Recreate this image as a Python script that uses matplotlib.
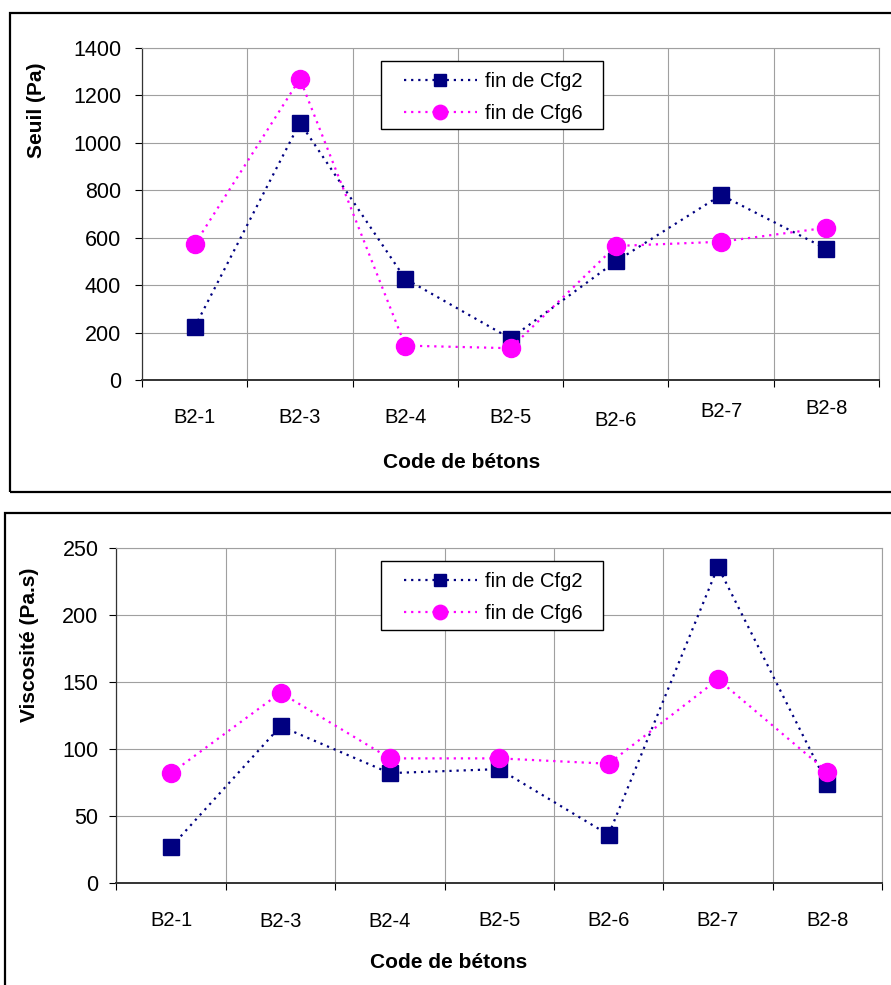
import numpy as np
import matplotlib
matplotlib.use('Agg')
import matplotlib.pyplot as plt
from matplotlib.patches import Rectangle

plt.rcParams['font.family'] = ['Liberation Sans', 'DejaVu Sans']

codes = ['B2-1', 'B2-3', 'B2-4', 'B2-5', 'B2-6', 'B2-7', 'B2-8']
seuil_cfg2 = [223, 1085, 427, 175, 500, 780, 553]
seuil_cfg6 = [572, 1270, 145, 134, 565, 583, 642]
visco_cfg2 = [27, 117, 82, 85, 36, 236, 74]
visco_cfg6 = [82, 142, 93, 93, 89, 152, 83]

W, H = 891, 985
fig = plt.figure(figsize=(W / 100, H / 100), dpi=100)
NAVY = '#000080'
MAG = '#FF00FF'
GRID = '#a0a0a0'


def px_axes(l, t, r, b):
    return fig.add_axes([l / W, 1 - b / H, (r - l) / W, (b - t) / H])


def draw(ax, y2, y6, ymax, ystep, ypad, leg_box, label_offsets):
    x = np.arange(len(codes)) + 0.5
    ax.plot(x, y2, linestyle=(0, (1, 2.2)), lw=1.6, color=NAVY, marker='s',
            ms=11.5, mfc=NAVY, mec=NAVY, label='fin de Cfg2', zorder=3)
    ax.plot(x, y6, linestyle=(0, (1, 2.2)), lw=1.6, color=MAG, marker='o',
            ms=13, mfc=MAG, mec=MAG, label='fin de Cfg6', zorder=4)
    ax.set_xlim(0, len(codes))
    ax.set_ylim(0, ymax)
    ax.set_yticks(np.arange(0, ymax + 1, ystep))
    ax.set_xticks(np.arange(0, len(codes) + 1))
    ax.set_xticklabels([])
    ax.set_xticks(x, minor=True)
    ax.set_xticklabels(codes, minor=True, fontsize=14.5)
    ax.tick_params(axis='x', which='major', length=5, width=0.8, direction='out')
    ax.tick_params(axis='x', which='minor', length=0)
    for tk, off in zip(ax.xaxis.get_minor_ticks(), label_offsets):
        tk.set_pad(off)
    ax.tick_params(axis='y', length=5, width=0.8, pad=ypad, labelsize=15.5)
    ax.grid(True, which='major', color=GRID, lw=0.8)
    for s in ['top', 'right']:
        ax.spines[s].set_color(GRID)
        ax.spines[s].set_linewidth(0.8)
    ax.spines['left'].set_color('#333333')
    ax.spines['left'].set_linewidth(0.9)
    ax.spines['bottom'].set_color('#333333')
    ax.spines['bottom'].set_linewidth(1.4)
    ax.set_axisbelow(True)
    # legend frame drawn by hand (padding differs horizontally / vertically)
    l, t, r, b = leg_box
    ax.add_patch(Rectangle((l / W, 1 - b / H), (r - l) / W, (b - t) / H,
                           transform=fig.transFigure, fc='white', ec='black',
                           lw=1.0, zorder=5, clip_on=False))
    leg = ax.legend(loc='upper left', bbox_to_anchor=((l + 23) / W, 1 - (t + 11) / H),
                    bbox_transform=fig.transFigure, borderaxespad=0, borderpad=0,
                    frameon=False, fontsize=14.5, handlelength=3.6, handletextpad=0.4,
                    markerscale=0.8, labelspacing=0.64)
    leg.set_zorder(6)


# boxes around each chart
fig.patches.append(Rectangle((10 / W, 1 - 492 / H), 890 / W, 479 / H, transform=fig.transFigure,
                             fill=False, lw=1.6, ec='black'))
fig.patches.append(Rectangle((5 / W, -0.05), 890 / W, 1 - 513 / H + 0.05, transform=fig.transFigure,
                             fill=False, lw=1.6, ec='black'))

ax1 = px_axes(142, 48, 879, 380)
draw(ax1, seuil_cfg2, seuil_cfg6, 1400, 200, 10, (381, 61, 603, 129),
     [20, 20, 20, 20, 22, 16, 14])
fig.text(37 / W, 1 - 110 / H, 'Seuil (Pa)', rotation=90, ha='center', va='center',
         fontsize=15, fontweight='bold')
fig.text(462 / W, 1 - 462 / H, 'Code de bétons', ha='center', va='center',
         fontsize=15, fontweight='bold')

ax2 = px_axes(116.5, 548, 882, 883)
draw(ax2, visco_cfg2, visco_cfg6, 250, 50, 8, (381, 561, 603, 630),
     [20, 21, 21, 20, 20, 20, 20])
fig.text(30 / W, 1 - 645 / H, 'Viscosité (Pa.s)', rotation=90, ha='center', va='center',
         fontsize=15, fontweight='bold')
fig.text(449 / W, 1 - 963 / H, 'Code de bétons', ha='center', va='center',
         fontsize=15, fontweight='bold')

fig.savefig('out.png', dpi=100)
